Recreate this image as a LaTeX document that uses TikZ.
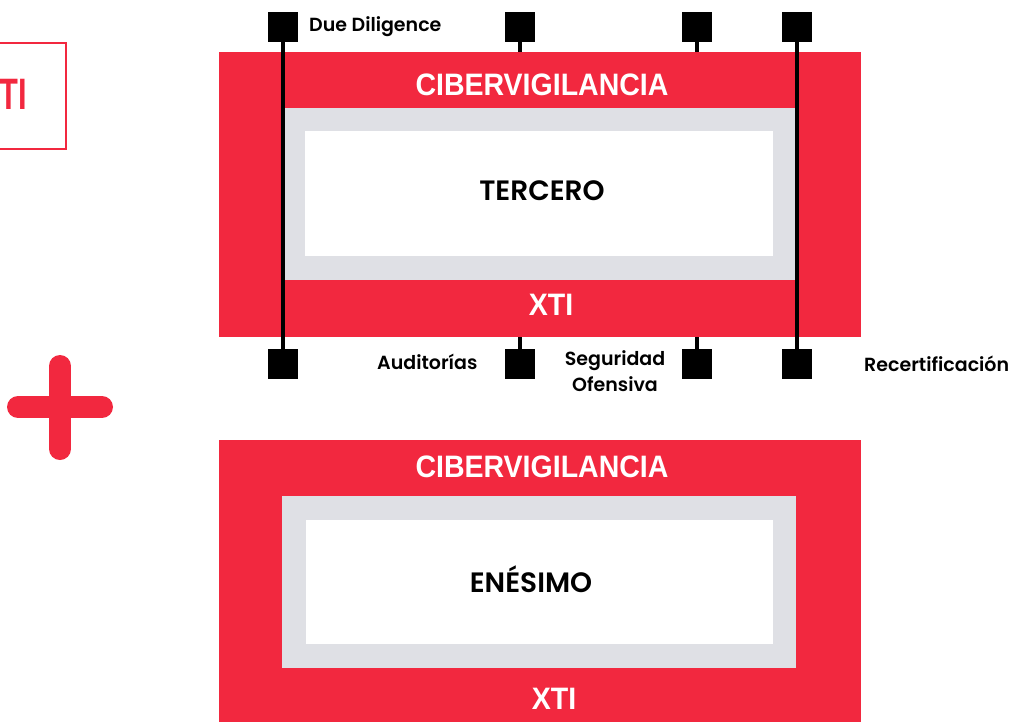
\documentclass[tikz,border=0pt]{standalone}
\usepackage{fontspec}
\setmainfont{Poppins}
\newfontfamily\headfont[FakeStretch=0.92]{Liberation Sans Bold}
\newfontfamily\tifont[FakeStretch=0.7]{Liberation Sans Bold}
\newfontfamily\geofont{Poppins SemiBold}
\definecolor{xred}{HTML}{F2283F}
\definecolor{xgray}{HTML}{DFE0E5}
\tikzset{
  redbox/.style={fill=xred,draw=none},
  graybox/.style={fill=xgray,draw=none},
  whitebox/.style={fill=white,draw=none},
  head/.style={text=white,font=\headfont\fontsize{31}{31}\selectfont,inner sep=0pt},
  core/.style={text=black,font=\geofont\fontsize{28}{28}\selectfont,inner sep=0pt},
  lbl/.style={text=black,font=\geofont\fontsize{19}{26}\selectfont,inner sep=0pt,align=center},
  sq/.style={fill=black,draw=none,minimum width=30pt,minimum height=30pt,inner sep=0pt},
  stem/.style={line width=4pt,black},
}
\begin{document}
\begin{tikzpicture}[x=1pt,y=-1pt]
\useasboundingbox (0,0) rectangle (1014,721);
\clip (0,0) rectangle (1014,721);
% left partial box
\draw[xred,line width=2.5pt] (-80,43) rectangle (66,149);
\node[anchor=west,text=xred,font=\tifont\fontsize{44}{44}\selectfont,inner sep=0pt] (ti) at (-1,94) {TI};
% plus
\draw[xred,line width=22pt,line cap=round] (60,366) -- (60,449);
\draw[xred,line width=22pt,line cap=round] (18,407) -- (102,407);
% top block
\fill[redbox] (219,52) rectangle (861,337);
\fill[graybox] (283,108) rectangle (797,280);
\fill[whitebox] (305,131) rectangle (773,256);
\node[head] (c1) at (542,85) {CIBERVIGILANCIA};
\node[core] (t1) at (542,191) {TERCERO};
\node[head] (x1) at (551,305) {XTI};
% squares
\node[sq] (a1) at (283,27) {};
\node[sq] (a2) at (520,27) {};
\node[sq] (a3) at (697,27) {};
\node[sq] (a4) at (797,27) {};
\node[sq] (b1) at (283,364) {};
\node[sq] (b2) at (520,364) {};
\node[sq] (b3) at (697,364) {};
\node[sq] (b4) at (797,364) {};
\coordinate (s2t) at (520,52);
\coordinate (s3t) at (697,52);
\coordinate (s2b) at (520,337);
\coordinate (s3b) at (697,337);
\draw[stem] (a1.south) -- (b1.north);
\draw[stem] (a4.south) -- (b4.north);
\draw[stem] (a2.south) -- (s2t);
\draw[stem] (a3.south) -- (s3t);
\draw[stem] (b2.north) -- (s2b);
\draw[stem] (b3.north) -- (s3b);
\node[lbl,anchor=west] (l1) at (309,27) {Due Diligence};
\node[lbl,anchor=west] (l2) at (377,362) {Auditorías};
\node[lbl] (l3) at (615,371) {Seguridad\\Ofensiva};
\node[lbl,anchor=west] (l4) at (864,364) {Recertificación};
% bottom block
\fill[redbox] (219,440) rectangle (861,740);
\fill[graybox] (282,496) rectangle (796,668);
\fill[whitebox] (306,520) rectangle (773,644);
\node[head] (c2) at (542,467) {CIBERVIGILANCIA};
\node[core] (t2) at (531,579) {ENÉSIMO};
\node[head] (x2) at (554,699) {XTI};
\end{tikzpicture}
\end{document}
